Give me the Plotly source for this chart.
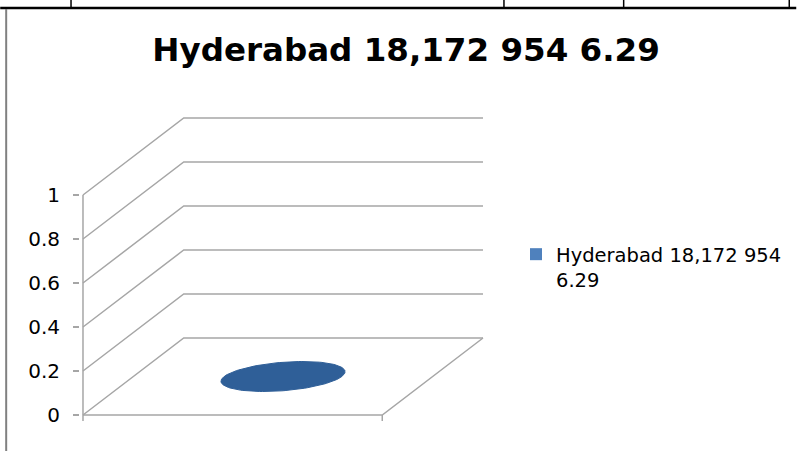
import numpy as np
import plotly.graph_objects as go

# chart content
chart_title = "Hyderabad 18,172 954 6.29"
series_names = ["Hyderabad 18,172 954<br>6.29"]
series_values = [0]
y_ticks = [0, 0.2, 0.4, 0.6, 0.8, 1]
y_tick_labels = ["0", "0.2", "0.4", "0.6", "0.8", "1"]

# oblique 3d frame (x in px units, value axis 220 px per unit)
CAT_W = 300
DX = 101
DV = 0.35
GRID = "#A6A6A6"
FONT = "DejaVu Sans"

L, R, T, B = 80, 310, 110, 26
X_RANGE = [-3, 405]
Y_RANGE = [-10 / 220, 305 / 220]


def proj(x, depth, v):
    return x + depth * DX, v + depth * DV


def px(xp):
    return (xp - L) / (X_RANGE[1] - X_RANGE[0])


def py(yp):
    return (451 - B - yp) / (451 - B - T)


fig = go.Figure()

# back wall gridlines
for v in y_ticks:
    pts = [proj(0, 0, v), proj(0, 1, v), proj(CAT_W, 1, v)]
    fig.add_trace(go.Scatter(x=[p[0] for p in pts], y=[p[1] for p in pts], mode="lines",
                             line=dict(color=GRID, width=1.5), hoverinfo="skip", showlegend=False))

# floor
floor = [proj(0, 0, 0), proj(CAT_W, 0, 0), proj(CAT_W, 1, 0)]
fig.add_trace(go.Scatter(x=[p[0] for p in floor], y=[p[1] for p in floor], mode="lines",
                         line=dict(color=GRID, width=1.5), hoverinfo="skip", showlegend=False))

# front value axis and category ticks
tick_down = 6 / 220
fig.add_trace(go.Scatter(x=[0, 0, None, CAT_W, CAT_W], y=[y_ticks[-1], -tick_down, None, 0, -tick_down],
                         mode="lines", line=dict(color=GRID, width=1.5), hoverinfo="skip", showlegend=False))

# cylinder top (value 0 -> only the cap shows)
theta = np.linspace(0, 2 * np.pi, 120)
a, d = 59, 0.195
for i, (name, val) in enumerate(zip(series_names, series_values)):
    cx = CAT_W * (i + 0.5) / len(series_names)
    ex = cx + a * np.cos(theta) + (0.5 + d * np.sin(theta)) * DX
    ey = val + (0.5 + d * np.sin(theta)) * DV
    fig.add_trace(go.Scatter(x=ex, y=ey, mode="lines", fill="toself", fillcolor="#2F5F98",
                             line=dict(color="#2F5F98", width=1), hoverinfo="skip", showlegend=False))
    fig.add_trace(go.Scatter(x=[None], y=[None], mode="markers", name=name,
                             marker=dict(symbol="square", size=12, color="#4F81BD")))

# document table borders around the picture
shapes = [
    dict(type="line", xref="paper", yref="paper", x0=px(0), x1=px(798), y0=py(8), y1=py(8),
         line=dict(color="black", width=2.5)),
    dict(type="line", xref="paper", yref="paper", x0=px(6), x1=px(6), y0=py(9), y1=py(451),
         line=dict(color="#808080", width=2)),
]
for xv in [71, 505, 625, 791]:
    shapes.append(dict(type="line", xref="paper", yref="paper", x0=px(xv), x1=px(xv), y0=py(0), y1=py(8),
                       line=dict(color="black", width=1.5)))

fig.update_layout(
    width=798, height=451,
    margin=dict(l=L, r=R, t=T, b=B),
    paper_bgcolor="white", plot_bgcolor="white",
    title=dict(text=f"<b>{chart_title}</b>", x=406 / 798, xanchor="center",
               y=1 - 50 / 451, yanchor="middle", font=dict(family=FONT, size=32.5, color="black")),
    xaxis=dict(range=X_RANGE, visible=False, fixedrange=True),
    yaxis=dict(range=Y_RANGE, tickvals=y_ticks, ticktext=y_tick_labels, ticks="outside", ticklen=6,
               tickwidth=1.5, tickcolor=GRID, showgrid=False, zeroline=False, showline=False,
               ticklabelstandoff=9, tickfont=dict(family=FONT, size=20, color="black"), fixedrange=True),
    legend=dict(x=px(516), xanchor="left", y=py(235), yanchor="top", valign="top",
                font=dict(family=FONT, size=19.5, color="black"), bgcolor="rgba(0,0,0,0)"),
    shapes=shapes,
)

fig.write_html("out.html", config={"displayModeBar": False},
               post_script="document.body.style.margin='0';")
